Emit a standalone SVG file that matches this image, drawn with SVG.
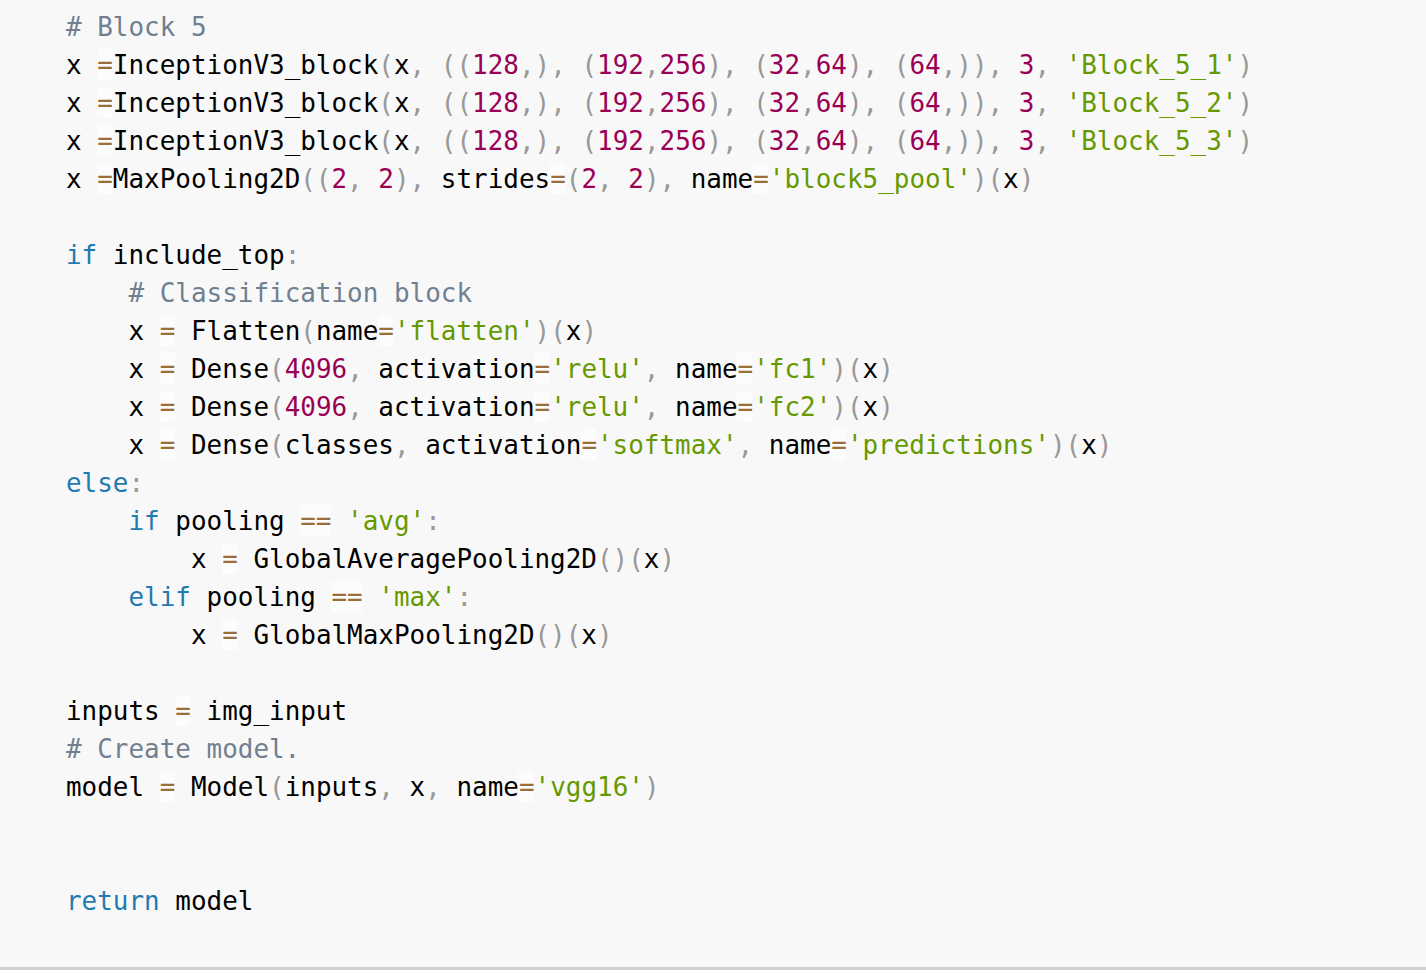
<svg xmlns="http://www.w3.org/2000/svg" width="1426" height="974" viewBox="0 0 1426 974">
<style>
text{font-family:"DejaVu Sans Mono","Liberation Mono",monospace;font-size:25.95px;fill:#000;white-space:pre}
.c{fill:#708090}
.k{fill:#1f7bb0}
.n{fill:#990055}
.s{fill:#669900}
.o{fill:#9a6e3a}
.p{fill:#999999}
.ob{fill:#ffffff;fill-opacity:0.5}
</style>
<rect x="0" y="0" width="1426" height="974" fill="#ffffff"/>
<rect x="0" y="0" width="1426" height="967" fill="#f8f8f8"/>
<rect x="0" y="967" width="1426" height="3" fill="#d0d0d0"/>
<g id="operator-boxes" transform="translate(1.5,0)">
<rect class="ob" x="95.7" y="49" width="15.6" height="31"/>
<rect class="ob" x="95.7" y="87" width="15.6" height="31"/>
<rect class="ob" x="95.7" y="125" width="15.6" height="31"/>
<rect class="ob" x="95.7" y="163" width="15.6" height="31"/>
<rect class="ob" x="547.9" y="163" width="15.6" height="31"/>
<rect class="ob" x="750.6" y="163" width="15.6" height="31"/>
<rect class="ob" x="158.1" y="315" width="15.6" height="31"/>
<rect class="ob" x="376.3" y="315" width="15.6" height="31"/>
<rect class="ob" x="158.1" y="353" width="15.6" height="31"/>
<rect class="ob" x="532.3" y="353" width="15.6" height="31"/>
<rect class="ob" x="735.0" y="353" width="15.6" height="31"/>
<rect class="ob" x="158.1" y="391" width="15.6" height="31"/>
<rect class="ob" x="532.3" y="391" width="15.6" height="31"/>
<rect class="ob" x="735.0" y="391" width="15.6" height="31"/>
<rect class="ob" x="158.1" y="429" width="15.6" height="31"/>
<rect class="ob" x="579.0" y="429" width="15.6" height="31"/>
<rect class="ob" x="828.5" y="429" width="15.6" height="31"/>
<rect class="ob" x="298.4" y="505" width="31.2" height="31"/>
<rect class="ob" x="220.4" y="543" width="15.6" height="31"/>
<rect class="ob" x="329.6" y="581" width="31.2" height="31"/>
<rect class="ob" x="220.4" y="619" width="15.6" height="31"/>
<rect class="ob" x="173.6" y="695" width="15.6" height="31"/>
<rect class="ob" x="158.1" y="771" width="15.6" height="31"/>
<rect class="ob" x="516.7" y="771" width="15.6" height="31"/>
</g>
<g id="code" xml:space="preserve" transform="translate(1.5,0)">
<text x="64.5" y="36"><tspan class="c"># Block 5</tspan></text>
<text x="64.5" y="74">x <tspan class="o">=</tspan>InceptionV3_block<tspan class="p">(</tspan>x<tspan class="p">,</tspan> <tspan class="p">((</tspan><tspan class="n">128</tspan><tspan class="p">,),</tspan> <tspan class="p">(</tspan><tspan class="n">192</tspan><tspan class="p">,</tspan><tspan class="n">256</tspan><tspan class="p">),</tspan> <tspan class="p">(</tspan><tspan class="n">32</tspan><tspan class="p">,</tspan><tspan class="n">64</tspan><tspan class="p">),</tspan> <tspan class="p">(</tspan><tspan class="n">64</tspan><tspan class="p">,)),</tspan> <tspan class="n">3</tspan><tspan class="p">,</tspan> <tspan class="s">'Block_5_1'</tspan><tspan class="p">)</tspan></text>
<text x="64.5" y="112">x <tspan class="o">=</tspan>InceptionV3_block<tspan class="p">(</tspan>x<tspan class="p">,</tspan> <tspan class="p">((</tspan><tspan class="n">128</tspan><tspan class="p">,),</tspan> <tspan class="p">(</tspan><tspan class="n">192</tspan><tspan class="p">,</tspan><tspan class="n">256</tspan><tspan class="p">),</tspan> <tspan class="p">(</tspan><tspan class="n">32</tspan><tspan class="p">,</tspan><tspan class="n">64</tspan><tspan class="p">),</tspan> <tspan class="p">(</tspan><tspan class="n">64</tspan><tspan class="p">,)),</tspan> <tspan class="n">3</tspan><tspan class="p">,</tspan> <tspan class="s">'Block_5_2'</tspan><tspan class="p">)</tspan></text>
<text x="64.5" y="150">x <tspan class="o">=</tspan>InceptionV3_block<tspan class="p">(</tspan>x<tspan class="p">,</tspan> <tspan class="p">((</tspan><tspan class="n">128</tspan><tspan class="p">,),</tspan> <tspan class="p">(</tspan><tspan class="n">192</tspan><tspan class="p">,</tspan><tspan class="n">256</tspan><tspan class="p">),</tspan> <tspan class="p">(</tspan><tspan class="n">32</tspan><tspan class="p">,</tspan><tspan class="n">64</tspan><tspan class="p">),</tspan> <tspan class="p">(</tspan><tspan class="n">64</tspan><tspan class="p">,)),</tspan> <tspan class="n">3</tspan><tspan class="p">,</tspan> <tspan class="s">'Block_5_3'</tspan><tspan class="p">)</tspan></text>
<text x="64.5" y="188">x <tspan class="o">=</tspan>MaxPooling2D<tspan class="p">((</tspan><tspan class="n">2</tspan><tspan class="p">,</tspan> <tspan class="n">2</tspan><tspan class="p">),</tspan> strides<tspan class="o">=</tspan><tspan class="p">(</tspan><tspan class="n">2</tspan><tspan class="p">,</tspan> <tspan class="n">2</tspan><tspan class="p">),</tspan> name<tspan class="o">=</tspan><tspan class="s">'block5_pool'</tspan><tspan class="p">)(</tspan>x<tspan class="p">)</tspan></text>
<text x="64.5" y="264"><tspan class="k">if</tspan> include_top<tspan class="p">:</tspan></text>
<text x="64.5" y="302">    <tspan class="c"># Classification block</tspan></text>
<text x="64.5" y="340">    x <tspan class="o">=</tspan> Flatten<tspan class="p">(</tspan>name<tspan class="o">=</tspan><tspan class="s">'flatten'</tspan><tspan class="p">)(</tspan>x<tspan class="p">)</tspan></text>
<text x="64.5" y="378">    x <tspan class="o">=</tspan> Dense<tspan class="p">(</tspan><tspan class="n">4096</tspan><tspan class="p">,</tspan> activation<tspan class="o">=</tspan><tspan class="s">'relu'</tspan><tspan class="p">,</tspan> name<tspan class="o">=</tspan><tspan class="s">'fc1'</tspan><tspan class="p">)(</tspan>x<tspan class="p">)</tspan></text>
<text x="64.5" y="416">    x <tspan class="o">=</tspan> Dense<tspan class="p">(</tspan><tspan class="n">4096</tspan><tspan class="p">,</tspan> activation<tspan class="o">=</tspan><tspan class="s">'relu'</tspan><tspan class="p">,</tspan> name<tspan class="o">=</tspan><tspan class="s">'fc2'</tspan><tspan class="p">)(</tspan>x<tspan class="p">)</tspan></text>
<text x="64.5" y="454">    x <tspan class="o">=</tspan> Dense<tspan class="p">(</tspan>classes<tspan class="p">,</tspan> activation<tspan class="o">=</tspan><tspan class="s">'softmax'</tspan><tspan class="p">,</tspan> name<tspan class="o">=</tspan><tspan class="s">'predictions'</tspan><tspan class="p">)(</tspan>x<tspan class="p">)</tspan></text>
<text x="64.5" y="492"><tspan class="k">else</tspan><tspan class="p">:</tspan></text>
<text x="64.5" y="530">    <tspan class="k">if</tspan> pooling <tspan class="o">==</tspan> <tspan class="s">'avg'</tspan><tspan class="p">:</tspan></text>
<text x="64.5" y="568">        x <tspan class="o">=</tspan> GlobalAveragePooling2D<tspan class="p">()(</tspan>x<tspan class="p">)</tspan></text>
<text x="64.5" y="606">    <tspan class="k">elif</tspan> pooling <tspan class="o">==</tspan> <tspan class="s">'max'</tspan><tspan class="p">:</tspan></text>
<text x="64.5" y="644">        x <tspan class="o">=</tspan> GlobalMaxPooling2D<tspan class="p">()(</tspan>x<tspan class="p">)</tspan></text>
<text x="64.5" y="720">inputs <tspan class="o">=</tspan> img_input</text>
<text x="64.5" y="758"><tspan class="c"># Create model.</tspan></text>
<text x="64.5" y="796">model <tspan class="o">=</tspan> Model<tspan class="p">(</tspan>inputs<tspan class="p">,</tspan> x<tspan class="p">,</tspan> name<tspan class="o">=</tspan><tspan class="s">'vgg16'</tspan><tspan class="p">)</tspan></text>
<text x="64.5" y="910"><tspan class="k">return</tspan> model</text>
</g>
</svg>
